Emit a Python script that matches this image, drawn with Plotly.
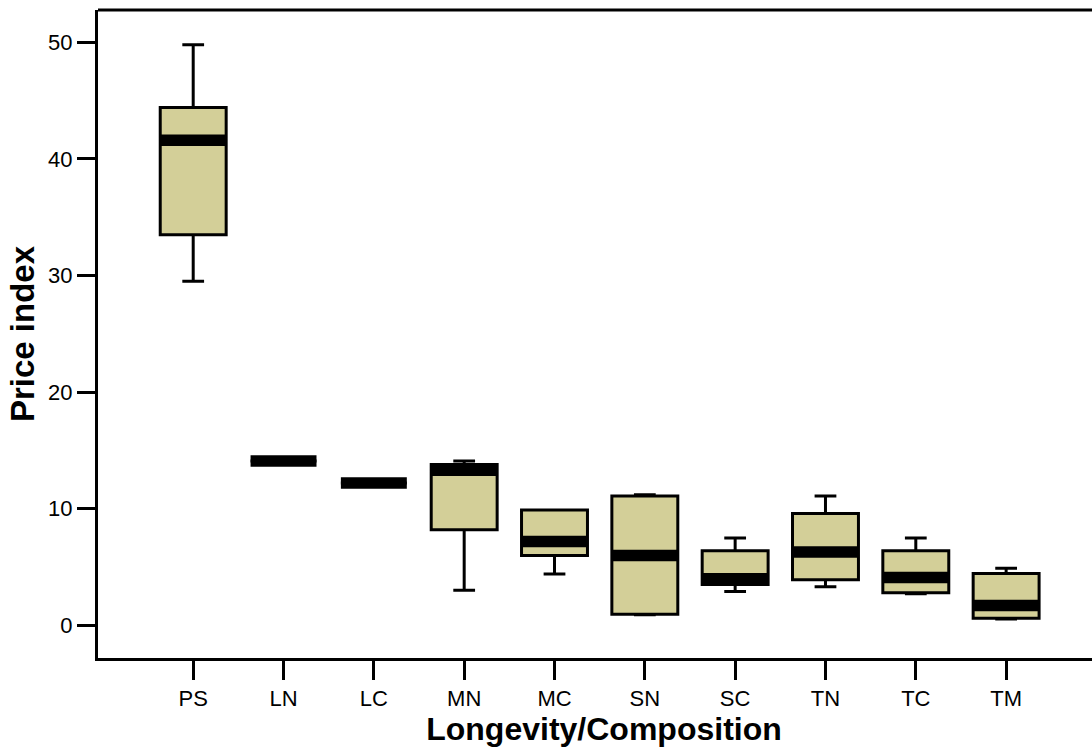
import plotly.graph_objects as go

categories = ["PS", "LN", "LC", "MN", "MC", "SN", "SC", "TN", "TC", "TM"]
lower_whisker = [29.5, 14.1, 12.2, 3.0, 4.4, 0.9, 2.9, 3.3, 2.7, 0.55]
q1_values = [33.5, 14.1, 12.2, 8.2, 6.0, 0.95, 3.5, 3.9, 2.8, 0.6]
median_values = [41.6, 14.1, 12.2, 13.3, 7.2, 6.0, 4.0, 6.3, 4.1, 1.7]
q3_values = [44.4, 14.1, 12.2, 13.8, 9.9, 11.1, 6.4, 9.6, 6.4, 4.45]
upper_whisker = [49.8, 14.1, 12.2, 14.1, 9.9, 11.2, 7.5, 11.1, 7.5, 4.9]
y_ticks = [0, 10, 20, 30, 40, 50]

positions = list(range(len(categories)))
box_width = 0.73
fill = "#d3cf98"
font_family = "Liberation Sans, Arial, sans-serif"

fig = go.Figure()
fig.add_trace(go.Box(
    x=positions,
    q1=q1_values, median=median_values, q3=q3_values,
    lowerfence=lower_whisker, upperfence=upper_whisker,
    width=box_width, whiskerwidth=0.33,
    fillcolor=fill, line=dict(color="black", width=3),
    boxpoints=False, hoverinfo="skip", showlegend=False,
))

# thick median bands
mx, my = [], []
for p, m in zip(positions, median_values):
    mx += [p - box_width / 2, p + box_width / 2, None]
    my += [m, m, None]
fig.add_trace(go.Scatter(
    x=mx, y=my, mode="lines",
    line=dict(color="black", width=11.5),
    hoverinfo="skip", showlegend=False,
))

fig.update_layout(
    width=1110, height=754,
    margin=dict(l=98, r=0, t=10, b=96, autoexpand=False),
    paper_bgcolor="white", plot_bgcolor="white",
    font=dict(family=font_family, color="black", size=22),
    xaxis=dict(
        range=[-1.054, 10.15], automargin=False,
        tickmode="array", tickvals=positions, ticktext=categories,
        showline=True, linecolor="black", linewidth=3, mirror=False,
        ticks="outside", ticklen=19, tickwidth=3, tickcolor="black",
        showgrid=False, zeroline=False,
        tickfont=dict(size=22),
        title=dict(text="<b>Longevity/Composition</b>", font=dict(size=32), standoff=4),
    ),
    yaxis=dict(
        range=[-2.8, 52.77], automargin=False,
        tickmode="array", tickvals=y_ticks,
        showline=True, linecolor="black", linewidth=3,
        ticks="outside", ticklen=18, tickwidth=3, tickcolor="black",
        showgrid=False, zeroline=False,
        tickfont=dict(size=22),
        title=dict(text="<b>Price index</b>", font=dict(size=33), standoff=4),
    ),
    shapes=[dict(type="line", xref="paper", yref="paper", x0=0, x1=1, y0=1, y1=1,
                 line=dict(color="black", width=3), layer="above")],
)

fig.write_html(
    "out.html",
    config={"displayModeBar": False},
    post_script=(
        "document.documentElement.style.overflow='hidden';"
        "document.body.style.margin='0';document.body.style.overflow='hidden';"
    ),
)
